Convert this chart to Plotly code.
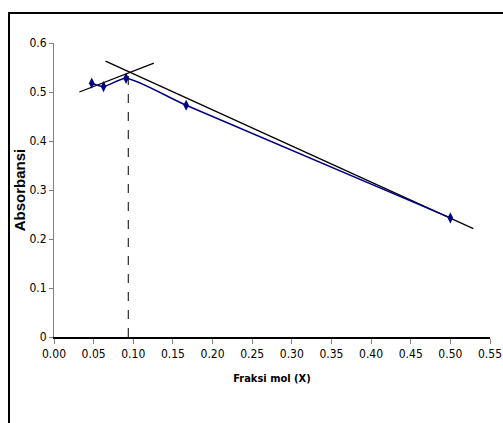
import plotly.graph_objects as go

# data
fraksi_mol = [0.0476, 0.0625, 0.0909, 0.1667, 0.5]
absorbansi = [0.518, 0.511, 0.528, 0.473, 0.243]

# tangent lines (drawn by hand in original)
tan1_x = [0.032, 0.126]
tan1_y = [0.500, 0.559]
tan2_x = [0.065, 0.529]
tan2_y = [0.563, 0.221]
# vertical dashed line at intersection
vline_x = [0.0937, 0.0937]
vline_y = [0.0, 0.541]

x_ticks = [0.00, 0.05, 0.10, 0.15, 0.20, 0.25, 0.30, 0.35, 0.40, 0.45, 0.50, 0.55]
y_ticks = [0, 0.1, 0.2, 0.3, 0.4, 0.5, 0.6]

font_fam = "DejaVu Sans Condensed, Liberation Sans Narrow, Arial Narrow, sans-serif"

fig = go.Figure()
fig.add_trace(go.Scatter(x=tan1_x, y=tan1_y, mode="lines",
                         line=dict(color="black", width=1.3), showlegend=False))
fig.add_trace(go.Scatter(x=tan2_x, y=tan2_y, mode="lines",
                         line=dict(color="black", width=1.3), showlegend=False))
fig.add_trace(go.Scatter(x=vline_x, y=vline_y, mode="lines",
                         line=dict(color="black", width=1, dash="dash"), showlegend=False))
fig.add_trace(go.Scatter(x=fraksi_mol, y=absorbansi, mode="lines+markers",
                         line=dict(color="#000080", width=1.5, shape="spline", smoothing=0.6),
                         marker=dict(symbol="diamond-tall", size=8, color="#000080"),
                         showlegend=False))

fig.update_layout(
    width=503, height=423,
    margin=dict(l=54, r=13, t=43, b=86, autoexpand=False),
    paper_bgcolor="white", plot_bgcolor="white",
    font=dict(family=font_fam, size=12, color="black"),
    xaxis=dict(range=[0, 0.55], tickvals=x_ticks,
               ticktext=[f"{v:.2f}" for v in x_ticks],
               showgrid=False, zeroline=False, showline=True, linecolor="black", linewidth=1.5,
               ticks="outside", ticklen=5, tickcolor="#808080", tickwidth=1,
               automargin=False, ticklabeloverflow="allow",
               title=dict(text="<b>Fraksi mol (X)</b>", font=dict(size=11, family=font_fam), standoff=14),
               fixedrange=True),
    yaxis=dict(range=[0, 0.6], tickvals=y_ticks,
               ticktext=["0", "0.1", "0.2", "0.3", "0.4", "0.5", "0.6"],
               showgrid=False, zeroline=False, showline=True, linecolor="#808080", linewidth=1,
               ticks="outside", ticklen=4, tickcolor="#808080",
               automargin=False,
               title=dict(text="<b>Absorbansi</b>", font=dict(size=15, family="Liberation Sans, Arial, sans-serif"), standoff=0),
               fixedrange=True),
    shapes=[dict(type="rect", xref="paper", yref="paper",
                 x0=-0.1032, x1=1.2, y0=-0.4, y1=1.102,
                 line=dict(color="black", width=2), fillcolor="rgba(0,0,0,0)", layer="below")],
)

fig.write_html("out.html",
               config={"displayModeBar": False, "staticPlot": True},
               post_script="document.body.style.margin='0';document.body.style.overflow='hidden';")
